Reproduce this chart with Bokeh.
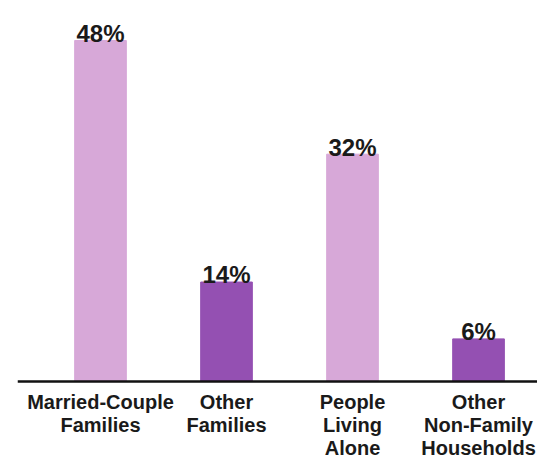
from bokeh.plotting import figure
from bokeh.models import Range1d, FixedTicker, ColumnDataSource
from bokeh.transform import dodge
from bokeh.embed import file_html
from bokeh.resources import INLINE
from bokeh.core.properties import value

categories = ["Married-Couple\nFamilies", "Other\nFamilies", "People\nLiving\nAlone", "Other\nNon-Family\nHouseholds"]
shares = [48, 14, 32, 6]
value_labels = ["48%", "14%", "32%", "6%"]
bar_colors = ["#d7a8d8", "#9450b2", "#d7a8d8", "#9450b2"]

positions = [1, 2, 3, 4]
src = ColumnDataSource(dict(x=positions, top=shares, lab=value_labels, color=bar_colors))

p = figure(width=537, height=461, output_backend="svg", toolbar_location=None,
           x_range=Range1d(0.3413, 4.468), y_range=Range1d(-11.26, 53.63),
           min_border_left=17, min_border_right=0, min_border_top=0, min_border_bottom=0,
           background_fill_color="white", border_fill_color="white")
p.outline_line_color = None
p.grid.visible = False
p.yaxis.visible = False

p.vbar(x="x", top="top", width=0.41, bottom=0, color="color", source=src)
p.text(x="x", y=dodge("top", 1.0), text="lab", source=src, text_align="center",
       text_baseline="alphabetic", text_font=value("Liberation Sans"), text_font_style="bold",
       text_font_size="24px", text_color="#1a1a1a")

ax = p.xaxis[0]
ax.fixed_location = 0
ax.ticker = FixedTicker(ticks=positions)
ax.major_label_overrides = {pos: lab for pos, lab in zip(positions, categories)}
ax.major_tick_line_color = None
ax.minor_tick_line_color = None
ax.axis_line_color = "#111111"
ax.axis_line_width = 2.5
ax.major_label_standoff = 3
ax.major_label_text_font = "Liberation Sans"
ax.major_label_text_font_style = "bold"
ax.major_label_text_font_size = "20px"
ax.major_label_text_color = "#1a1a1a"
ax.major_label_text_line_height = 1.06

open("out.html", "w").write(file_html(p, INLINE))
